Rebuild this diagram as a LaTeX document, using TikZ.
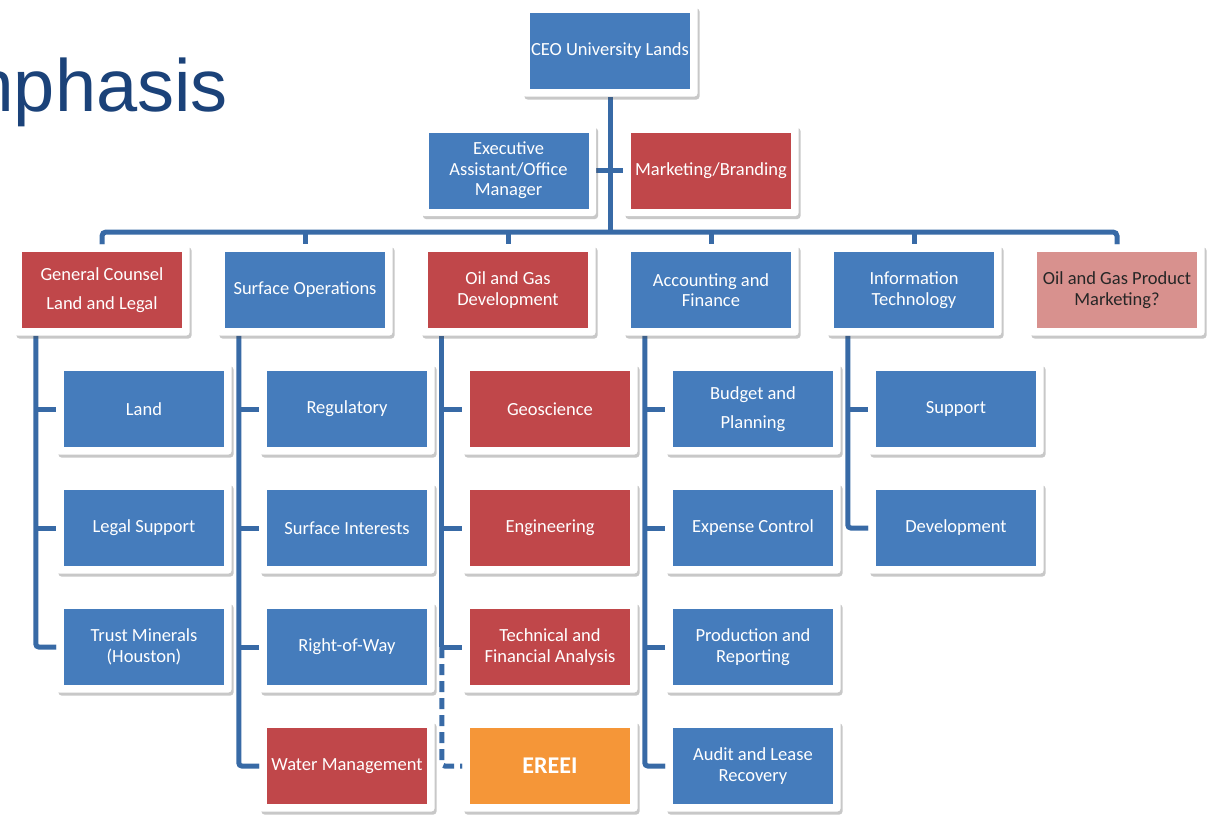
\documentclass[tikz,border=0pt]{standalone}
\usepackage{fontspec}
\setmainfont{Carlito}
\newfontfamily\titlefam{Liberation Sans}
\usetikzlibrary{shadows,backgrounds}
\definecolor{ublue}{HTML}{457CBC}
\definecolor{ured}{HTML}{C0474A}
\definecolor{uorange}{HTML}{F59638}
\definecolor{upink}{HTML}{D8918E}
\definecolor{uline}{HTML}{386AA6}
\definecolor{utitle}{HTML}{1B4279}
\pgfdeclarelayer{bottom}
\pgfsetlayers{bottom,background,main}
\newcommand\orgbox[5]{%
  \node[frame] (#1) at (#2,#3) {};
  \node[cell,#4] (#1in) at (#2,#3) {#5};}
\begin{document}
\begin{tikzpicture}[x=1pt,y=-1pt,
  frame/.style={fill=white, rounded corners=3pt, minimum width=175pt, minimum height=91pt, inner sep=0pt,
    drop shadow={opacity=0.3, fill=black!70, shadow xshift=2pt, shadow yshift=-3pt}},
  cell/.style={minimum width=160pt, minimum height=76pt, inner sep=0pt, align=center, text=white,
    font=\fontsize{18.5}{20.5}\selectfont},
  wide/.style={font=\fontsize{18.5}{28.5}\selectfont},
  bx/.style={fill=ublue},
  rx/.style={fill=ured},
  ox/.style={fill=uorange, font=\bfseries\fontsize{24}{26}\selectfont},
  px/.style={fill=upink, text=black!85},
  conn/.style={draw=uline, line width=5pt},
  dconn/.style={conn, dash pattern=on 11pt off 6pt},
]
\begin{pgfonlayer}{bottom}
  \fill[white] (0,0) rectangle (1213,816);
\end{pgfonlayer}
\useasboundingbox (0,0) rectangle (1213,816);

\node[font=\titlefam\fontsize{74}{80}\selectfont, text=utitle, anchor=base east, inner sep=0pt] (title) at (228,111) {Emphasis};

\orgbox{ceo}{610}{51}{bx}{CEO University Lands}
\orgbox{ea}{508.5}{170.5}{bx}{Executive\\Assistant/Office\\Manager}
\orgbox{mb}{711}{170.5}{rx}{Marketing/Branding}

\orgbox{gc}{102}{290}{rx,wide}{General Counsel\\Land and Legal}
\orgbox{so}{305}{290}{bx}{Surface Operations}
\orgbox{og}{508}{290}{rx}{Oil and Gas\\Development}
\orgbox{af}{711}{290}{bx}{Accounting and\\Finance}
\orgbox{it}{914}{290}{bx}{Information\\Technology}
\orgbox{pm}{1117}{290}{px}{Oil and Gas Product\\Marketing?}

\orgbox{land}{144}{409}{bx}{Land}
\orgbox{ls}{144}{528}{bx}{Legal Support}
\orgbox{tm}{144}{647}{bx}{Trust Minerals\\(Houston)}

\orgbox{reg}{347}{409}{bx}{Regulatory}
\orgbox{si}{347}{528}{bx}{Surface Interests}
\orgbox{rw}{347}{647}{bx}{Right-of-Way}
\orgbox{wm}{347}{766}{rx}{Water Management}

\orgbox{geo}{550}{409}{rx}{Geoscience}
\orgbox{eng}{550}{528}{rx}{Engineering}
\orgbox{tfa}{550}{647}{rx}{Technical and\\Financial Analysis}
\orgbox{ereei}{550}{766}{ox}{EREEI}

\orgbox{bp}{753}{409}{bx,wide}{Budget and\\Planning}
\orgbox{ec}{753}{528}{bx}{Expense Control}
\orgbox{pr}{753}{647}{bx}{Production and\\Reporting}
\orgbox{al}{753}{766}{bx}{Audit and Lease\\Recovery}

\orgbox{sup}{956}{409}{bx}{Support}
\orgbox{dev}{956}{528}{bx}{Development}

\coordinate (busy) at (610,232);
\coordinate (cgc) at ([xshift=21.5pt]gc.south west);
\coordinate (cso) at ([xshift=21.5pt]so.south west);
\coordinate (cog) at ([xshift=21.5pt]og.south west);
\coordinate (caf) at ([xshift=21.5pt]af.south west);
\coordinate (cit) at ([xshift=21.5pt]it.south west);

\begin{pgfonlayer}{background}
  \draw[conn] (ceo) -- (ceo |- busy);
  \draw[conn] (ea) -- (mb);
  \draw[conn, rounded corners=4pt] (gc) -- (gc |- busy) -- (pm |- busy) -- (pm);
  \foreach \c in {so,og,af,it} \draw[conn] (\c |- busy) -- (\c);

  \draw[conn, rounded corners=3pt] (cgc) |- (tm);
  \foreach \c in {land,ls} \draw[conn] (cgc |- \c) -- (\c);

  \draw[conn, rounded corners=3pt] (cso) |- (wm);
  \foreach \c in {reg,si,rw} \draw[conn] (cso |- \c) -- (\c);

  \draw[conn] (cog) -- (cog |- tfa);
  \foreach \c in {geo,eng,tfa} \draw[conn] (cog |- \c) -- (\c);
  \draw[dconn, rounded corners=3pt] (cog |- tfa) |- (ereei);

  \draw[conn, rounded corners=3pt] (caf) |- (al);
  \foreach \c in {bp,ec,pr} \draw[conn] (caf |- \c) -- (\c);

  \draw[conn, rounded corners=3pt] (cit) |- (dev);
  \draw[conn] (cit |- sup) -- (sup);
\end{pgfonlayer}
\end{tikzpicture}
\end{document}
